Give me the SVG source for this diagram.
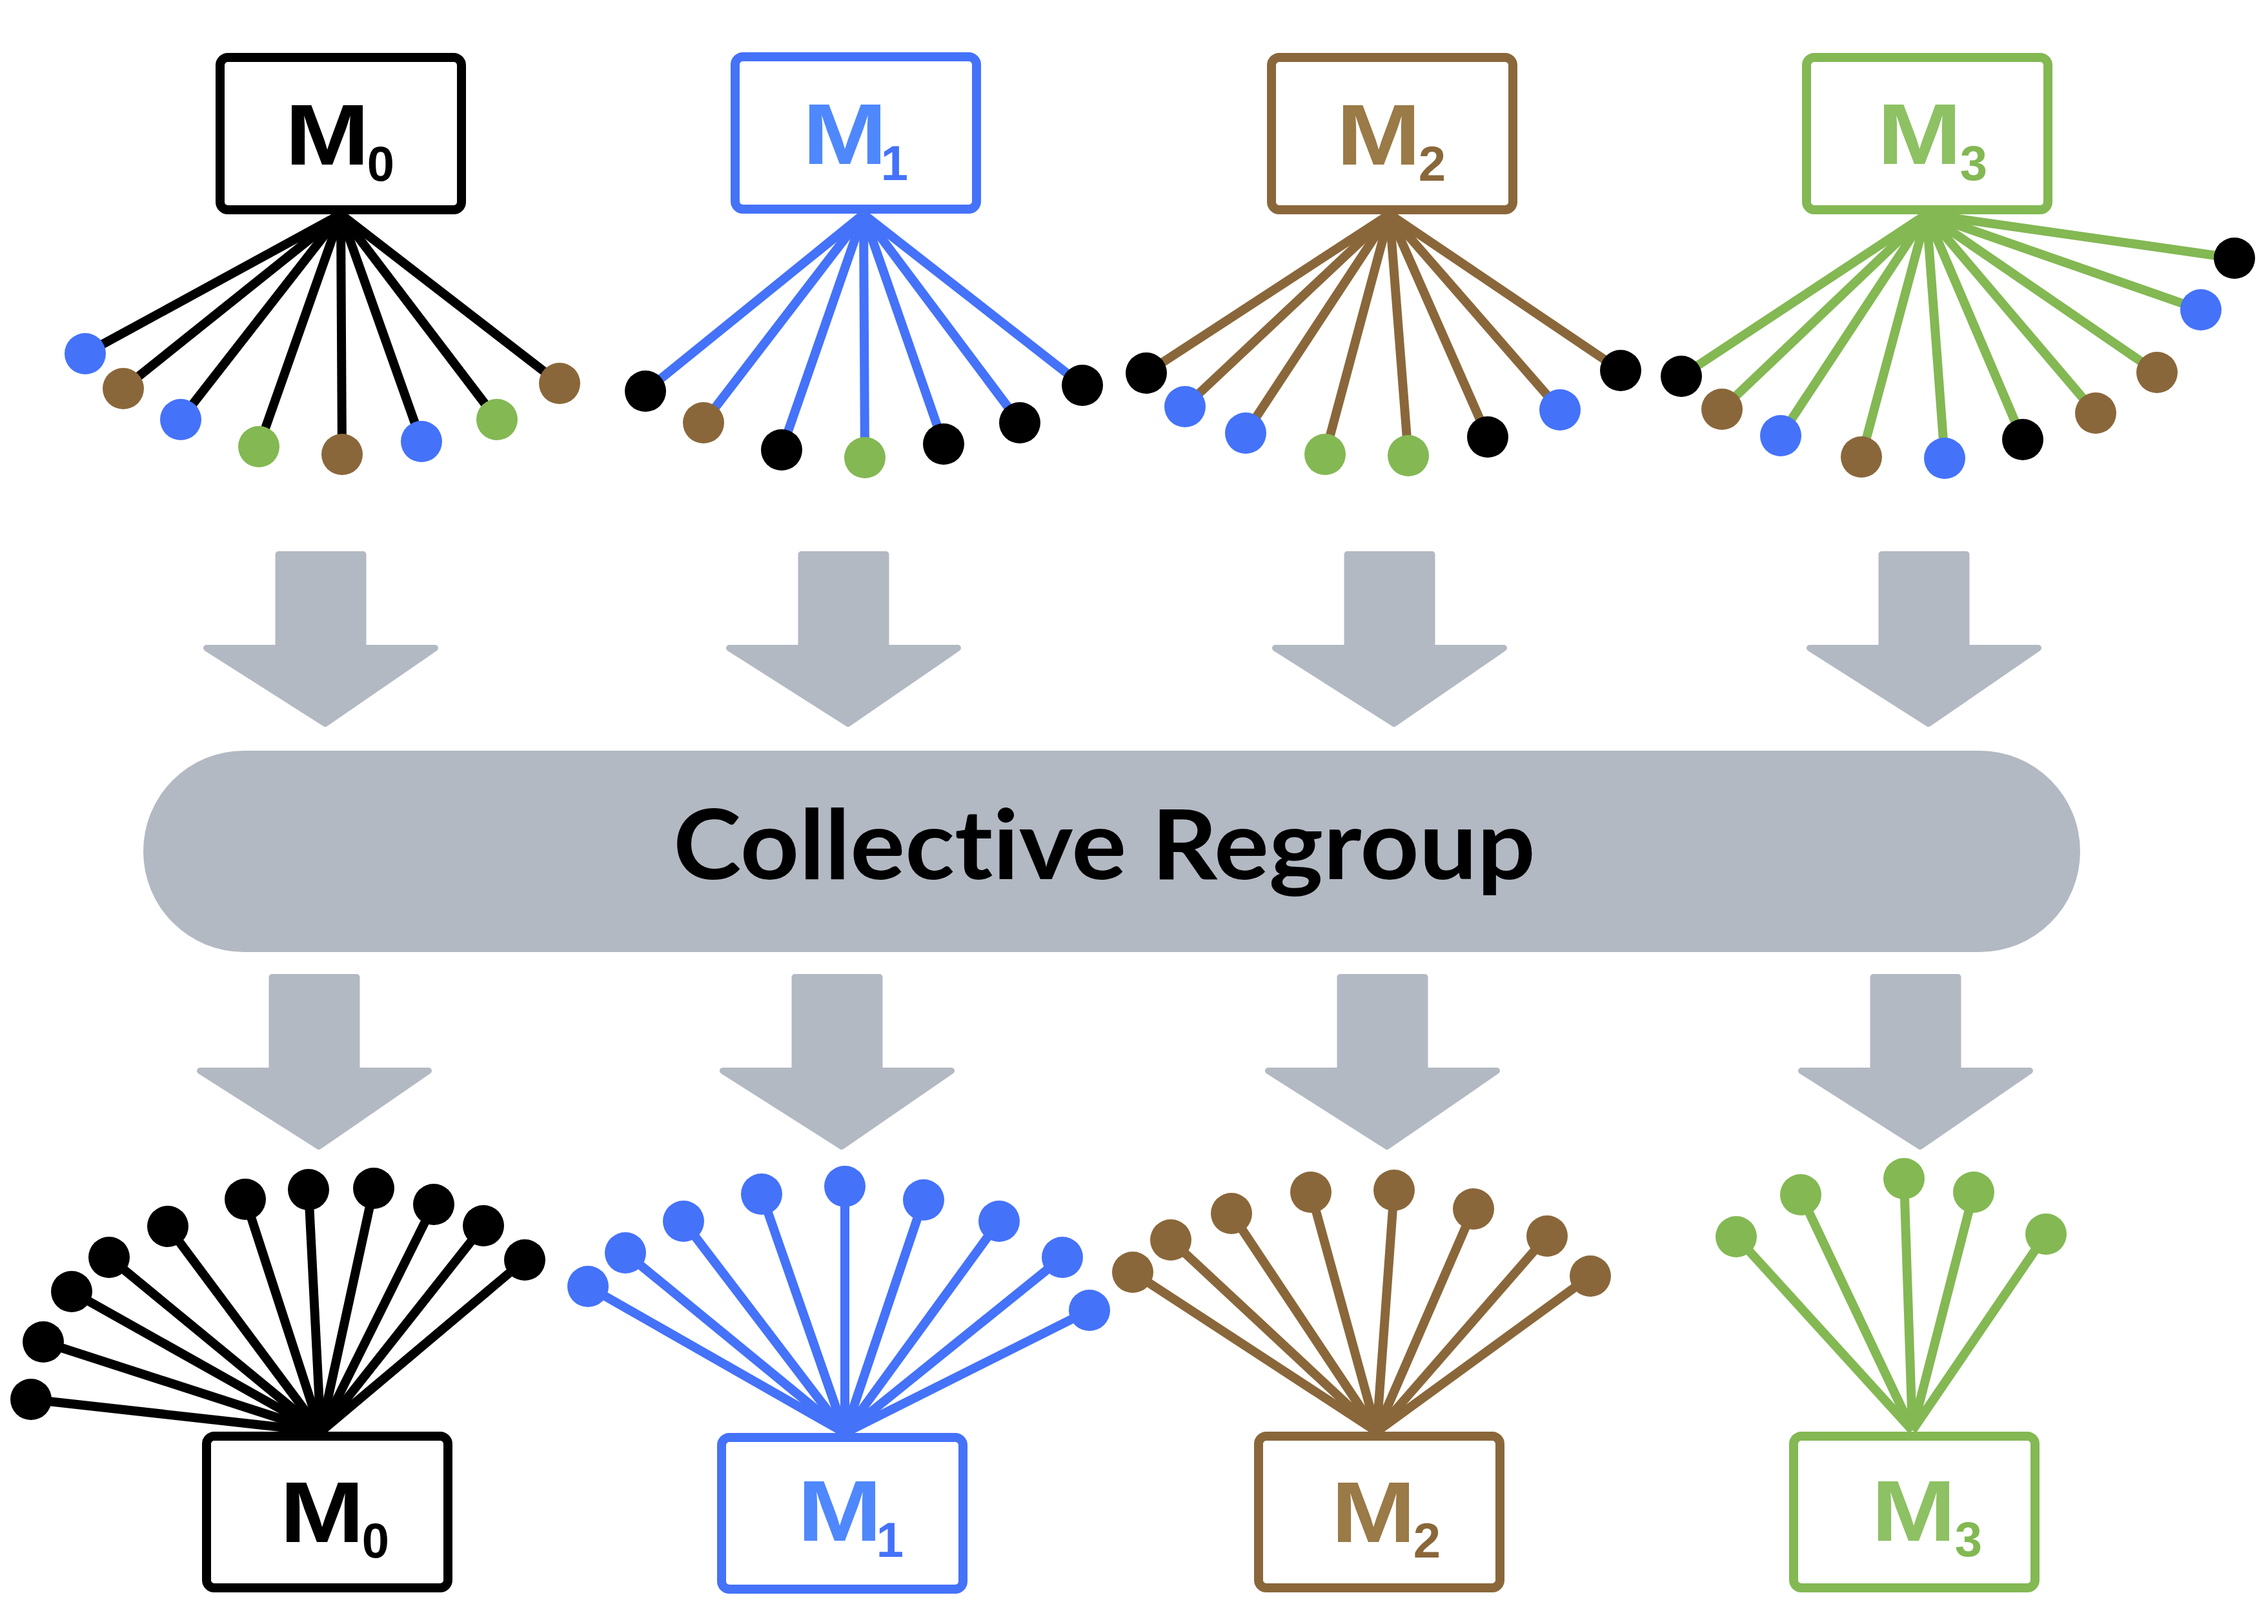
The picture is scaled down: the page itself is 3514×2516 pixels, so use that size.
<svg xmlns="http://www.w3.org/2000/svg" width="3514" height="2516" viewBox="0 0 3514 2516">
<style>
.box{fill:#fff;stroke-width:14}
.m{font-family:"Liberation Sans",Arial,sans-serif;font-weight:bold;font-size:133px;text-anchor:middle}
.sub{font-family:"Liberation Sans",Arial,sans-serif;font-weight:bold;font-size:76px;text-anchor:middle}
.title{font-family:Lato,"Liberation Sans",sans-serif;font-weight:bold;font-size:150px;text-anchor:middle;font-variant-ligatures:none;font-feature-settings:"liga" 0,"clig" 0,"dlig" 0}
.k{stroke:#000}.b{stroke:#4472F9}.n{stroke:#8A673A}.g{stroke:#83B853}
.fk{fill:#000}.fb{fill:#4472F9}.fn{fill:#8A673A}.fg{fill:#83B853}
.arrow{fill:#B3B9C3;stroke:#B3B9C3;stroke-width:10;stroke-linejoin:round}
#connectors line{stroke-width:14}
</style>
<defs>
<path id="arr" d="M-65.5,5 L65.5,5 L65.5,150 L177,150 L7,267 L-177,150 L-65.5,150 Z"/>
</defs>
<rect width="3514" height="2516" fill="#fff"/>

<g id="arrows">
<use href="#arr" class="arrow" x="497" y="854"/>
<use href="#arr" class="arrow" x="1307" y="854"/>
<use href="#arr" class="arrow" x="2153" y="854"/>
<use href="#arr" class="arrow" x="2981" y="854"/>
<use href="#arr" class="arrow" x="487" y="1509"/>
<use href="#arr" class="arrow" x="1297" y="1509"/>
<use href="#arr" class="arrow" x="2142" y="1509"/>
<use href="#arr" class="arrow" x="2968" y="1509"/>
</g>

<g id="collective-regroup">
<rect x="222" y="1163" width="3001" height="312" rx="156" fill="#B3B9C3"/>
<text class="title" x="1711" y="1362" textLength="1336" lengthAdjust="spacingAndGlyphs" fill="#000">Collective Regroup</text>
</g>

<g id="connectors">
<g class="k">
<line x1="528" y1="332" x2="132" y2="548"/><line x1="528" y1="332" x2="191" y2="602"/><line x1="528" y1="332" x2="280" y2="650"/><line x1="528" y1="332" x2="401" y2="692"/><line x1="528" y1="332" x2="530" y2="704"/><line x1="528" y1="332" x2="653" y2="684"/><line x1="528" y1="332" x2="770" y2="650"/><line x1="528" y1="332" x2="867" y2="594"/>
</g>
<g class="b">
<line x1="1338" y1="332" x2="1000" y2="606"/><line x1="1338" y1="332" x2="1090" y2="655"/><line x1="1338" y1="332" x2="1211" y2="697"/><line x1="1338" y1="332" x2="1340" y2="709"/><line x1="1338" y1="332" x2="1462" y2="688"/><line x1="1338" y1="332" x2="1580" y2="655"/><line x1="1338" y1="332" x2="1677" y2="597"/>
</g>
<g class="n">
<line x1="2153" y1="332" x2="1776" y2="578"/><line x1="2153" y1="332" x2="1836" y2="630"/><line x1="2153" y1="332" x2="1930" y2="671"/><line x1="2153" y1="332" x2="2053" y2="704"/><line x1="2153" y1="332" x2="2182" y2="706"/><line x1="2153" y1="332" x2="2305" y2="677"/><line x1="2153" y1="332" x2="2417" y2="635"/><line x1="2153" y1="332" x2="2511" y2="574"/>
</g>
<g class="g">
<line x1="2985" y1="332" x2="2605" y2="583"/><line x1="2985" y1="332" x2="2668" y2="634"/><line x1="2985" y1="332" x2="2759" y2="675"/><line x1="2985" y1="332" x2="2884" y2="708"/><line x1="2985" y1="332" x2="3013" y2="710"/><line x1="2985" y1="332" x2="3134" y2="681"/><line x1="2985" y1="332" x2="3247" y2="640"/><line x1="2985" y1="332" x2="3342" y2="577"/><line x1="2985" y1="332" x2="3410" y2="480"/><line x1="2985" y1="332" x2="3462" y2="400"/>
</g>
<g class="k">
<line x1="497" y1="2218" x2="48" y2="2168"/><line x1="497" y1="2218" x2="67" y2="2079"/><line x1="497" y1="2218" x2="111" y2="2001"/><line x1="497" y1="2218" x2="169" y2="1948"/><line x1="497" y1="2218" x2="260" y2="1900"/><line x1="497" y1="2218" x2="380" y2="1858"/><line x1="497" y1="2218" x2="478" y2="1843"/><line x1="497" y1="2218" x2="579" y2="1841"/><line x1="497" y1="2218" x2="672" y2="1866"/><line x1="497" y1="2218" x2="749" y2="1899"/><line x1="497" y1="2218" x2="813" y2="1952"/>
</g>
<g class="b">
<line x1="1309" y1="2220" x2="911" y2="1993"/><line x1="1309" y1="2220" x2="969" y2="1941"/><line x1="1309" y1="2220" x2="1059" y2="1892"/><line x1="1309" y1="2220" x2="1180" y2="1850"/><line x1="1309" y1="2220" x2="1309" y2="1838"/><line x1="1309" y1="2220" x2="1431" y2="1859"/><line x1="1309" y1="2220" x2="1548" y2="1892"/><line x1="1309" y1="2220" x2="1646" y2="1948"/><line x1="1309" y1="2220" x2="1688" y2="2030"/>
</g>
<g class="n">
<line x1="2133" y1="2218" x2="1755" y2="1971"/><line x1="2133" y1="2218" x2="1814" y2="1921"/><line x1="2133" y1="2218" x2="1908" y2="1880"/><line x1="2133" y1="2218" x2="2031" y2="1847"/><line x1="2133" y1="2218" x2="2160" y2="1844"/><line x1="2133" y1="2218" x2="2283" y2="1873"/><line x1="2133" y1="2218" x2="2397" y2="1915"/><line x1="2133" y1="2218" x2="2464" y2="1977"/>
</g>
<g class="g">
<line x1="2963" y1="2216" x2="2690" y2="1916"/><line x1="2963" y1="2216" x2="2790" y2="1851"/><line x1="2963" y1="2216" x2="2950" y2="1826"/><line x1="2963" y1="2216" x2="3058" y2="1847"/><line x1="2963" y1="2216" x2="3170" y2="1912"/>
</g>
</g>

<g id="dots-top-m0">
<circle class="fb" cx="132" cy="548" r="32"/><circle class="fn" cx="191" cy="602" r="32"/><circle class="fb" cx="280" cy="650" r="32"/><circle class="fg" cx="401" cy="692" r="32"/><circle class="fn" cx="530" cy="704" r="32"/><circle class="fb" cx="653" cy="684" r="32"/><circle class="fg" cx="770" cy="650" r="32"/><circle class="fn" cx="867" cy="594" r="32"/>
</g>
<g id="dots-top-m1">
<circle class="fk" cx="1000" cy="606" r="32"/><circle class="fn" cx="1090" cy="655" r="32"/><circle class="fk" cx="1211" cy="697" r="32"/><circle class="fg" cx="1340" cy="709" r="32"/><circle class="fk" cx="1462" cy="688" r="32"/><circle class="fk" cx="1580" cy="655" r="32"/><circle class="fk" cx="1677" cy="597" r="32"/>
</g>
<g id="dots-top-m2">
<circle class="fk" cx="1776" cy="578" r="32"/><circle class="fb" cx="1836" cy="630" r="32"/><circle class="fb" cx="1930" cy="671" r="32"/><circle class="fg" cx="2053" cy="704" r="32"/><circle class="fg" cx="2182" cy="706" r="32"/><circle class="fk" cx="2305" cy="677" r="32"/><circle class="fb" cx="2417" cy="635" r="32"/><circle class="fk" cx="2511" cy="574" r="32"/>
</g>
<g id="dots-top-m3">
<circle class="fk" cx="2605" cy="583" r="32"/><circle class="fn" cx="2668" cy="634" r="32"/><circle class="fb" cx="2759" cy="675" r="32"/><circle class="fn" cx="2884" cy="708" r="32"/><circle class="fb" cx="3013" cy="710" r="32"/><circle class="fk" cx="3134" cy="681" r="32"/><circle class="fn" cx="3247" cy="640" r="32"/><circle class="fn" cx="3342" cy="577" r="32"/><circle class="fb" cx="3410" cy="480" r="32"/><circle class="fk" cx="3462" cy="400" r="32"/>
</g>
<g id="dots-bottom-m0" class="fk">
<circle cx="48" cy="2168" r="32"/><circle cx="67" cy="2079" r="32"/><circle cx="111" cy="2001" r="32"/><circle cx="169" cy="1948" r="32"/><circle cx="260" cy="1900" r="32"/><circle cx="380" cy="1858" r="32"/><circle cx="478" cy="1843" r="32"/><circle cx="579" cy="1841" r="32"/><circle cx="672" cy="1866" r="32"/><circle cx="749" cy="1899" r="32"/><circle cx="813" cy="1952" r="32"/>
</g>
<g id="dots-bottom-m1" class="fb">
<circle cx="911" cy="1993" r="32"/><circle cx="969" cy="1941" r="32"/><circle cx="1059" cy="1892" r="32"/><circle cx="1180" cy="1850" r="32"/><circle cx="1309" cy="1838" r="32"/><circle cx="1431" cy="1859" r="32"/><circle cx="1548" cy="1892" r="32"/><circle cx="1646" cy="1948" r="32"/><circle cx="1688" cy="2030" r="32"/>
</g>
<g id="dots-bottom-m2" class="fn">
<circle cx="1755" cy="1971" r="32"/><circle cx="1814" cy="1921" r="32"/><circle cx="1908" cy="1880" r="32"/><circle cx="2031" cy="1847" r="32"/><circle cx="2160" cy="1844" r="32"/><circle cx="2283" cy="1873" r="32"/><circle cx="2397" cy="1915" r="32"/><circle cx="2464" cy="1977" r="32"/>
</g>
<g id="dots-bottom-m3" class="fg">
<circle cx="2690" cy="1916" r="32"/><circle cx="2790" cy="1851" r="32"/><circle cx="2950" cy="1826" r="32"/><circle cx="3058" cy="1847" r="32"/><circle cx="3170" cy="1912" r="32"/>
</g>

<g id="top-m0">
<rect class="box k" x="341" y="89" width="374" height="236" rx="12"/>
<text class="m" x="507" y="255" textLength="131" lengthAdjust="spacingAndGlyphs" fill="#000">M</text>
<text class="sub" x="590" y="280" fill="#000">0</text>
</g>
<g id="top-m1">
<rect class="box b" x="1139" y="88" width="374" height="236" rx="12"/>
<text class="m" x="1309" y="254" textLength="131" lengthAdjust="spacingAndGlyphs" fill="#4F88FC">M</text>
<text class="sub" x="1386" y="279" fill="#4472F9">1</text>
</g>
<g id="top-m2">
<rect class="box n" x="1970" y="89" width="374" height="236" rx="12"/>
<text class="m" x="2136" y="255" textLength="131" lengthAdjust="spacingAndGlyphs" fill="#9A7A47">M</text>
<text class="sub" x="2219" y="280" fill="#8A673A">2</text>
</g>
<g id="top-m3">
<rect class="box g" x="2799" y="89" width="374" height="236" rx="12"/>
<text class="m" x="2974" y="254" textLength="131" lengthAdjust="spacingAndGlyphs" fill="#8DC163">M</text>
<text class="sub" x="3058" y="279" fill="#83B853">3</text>
</g>

<g id="bottom-m0">
<rect class="box k" x="320" y="2225" width="374" height="235" rx="12"/>
<text class="m" x="499" y="2389" textLength="131" lengthAdjust="spacingAndGlyphs" fill="#000">M</text>
<text class="sub" x="582" y="2413" fill="#000">0</text>
</g>
<g id="bottom-m1">
<rect class="box b" x="1118" y="2227" width="374" height="235" rx="12"/>
<text class="m" x="1301" y="2387" textLength="131" lengthAdjust="spacingAndGlyphs" fill="#4F88FC">M</text>
<text class="sub" x="1379" y="2412" fill="#4472F9">1</text>
</g>
<g id="bottom-m2">
<rect class="box n" x="1950" y="2225" width="374" height="235" rx="12"/>
<text class="m" x="2128" y="2389" textLength="131" lengthAdjust="spacingAndGlyphs" fill="#9A7A47">M</text>
<text class="sub" x="2211" y="2413" fill="#8A673A">2</text>
</g>
<g id="bottom-m3">
<rect class="box g" x="2779" y="2225" width="374" height="235" rx="12"/>
<text class="m" x="2965" y="2387" textLength="131" lengthAdjust="spacingAndGlyphs" fill="#8DC163">M</text>
<text class="sub" x="3050" y="2411" fill="#83B853">3</text>
</g>
</svg>
